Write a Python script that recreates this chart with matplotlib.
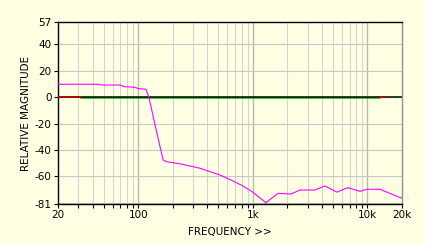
import numpy as np
import matplotlib.pyplot as plt
from matplotlib.ticker import FixedLocator, NullFormatter

plt.rcParams['axes.unicode_minus'] = False

# magenta response curve
freq = [20, 45, 48, 71, 75, 94, 100, 117, 124, 143, 165, 175, 232, 346, 517, 671, 820,
        1000, 1300, 1660, 2150, 2580, 3480, 4260, 5410, 6750, 8590, 10000, 12800, 20000]
mag = [9.8, 9.8, 9.2, 9.2, 8.0, 7.5, 6.5, 6.0, 0.0, -24.0, -47.6, -48.9, -50.5, -53.9,
       -59.0, -63.5, -67.3, -72.0, -80.0, -72.9, -73.4, -70.4, -70.4, -67.3, -72.0,
       -68.6, -71.4, -69.8, -69.8, -76.7]

# flat reference traces
flat_f = [20, 20000]
flat_v = [0, 0]
green_f = [31.7, 12800]
green_v = [-0.8, -0.8]
red_f1 = [20, 31.7]
red_f2 = [12800, 14200]
red_v = [0.2, 0.2]

yticks = [57, 40, 20, 0, -20, -40, -60, -81]
ygrid = [40, 20, 0, -20, -40, -60, -80]
xticks = [20, 100, 1000, 10000, 20000]
xlabels = ['20', '100', '1k', '10k', '20k']

bg = '#ffffe3'

fig = plt.figure(figsize=(4.25, 2.44), dpi=100, facecolor=bg)
ax = fig.add_axes([58 / 425, 1 - 204 / 244, 344 / 425, 182 / 244])
ax.set_facecolor(bg)
ax.set_xscale('log')
ax.set_xlim(20, 20000)
ax.set_ylim(-81, 57)

minor = [m * d for d in (10, 100, 1000) for m in range(2, 10)]
minor = [v for v in minor if 20 < v < 20000 and v not in (100, 1000, 10000)]
for v in minor:
    ax.axvline(v, color='#d4d4d4', lw=0.8, zorder=0)
for v in (100, 1000, 10000):
    ax.axvline(v, color='#b8b8b8', lw=1.0, zorder=0)
for v in ygrid:
    ax.axhline(v, color='#c8c8c8', lw=0.8, zorder=0)

ax.plot(freq, mag, color='#ff00ff', lw=0.8, zorder=3)
ax.plot(green_f, green_v, color='#00c000', lw=1.1, zorder=2)
ax.plot(flat_f, flat_v, color='black', lw=1.1, zorder=2.5)
ax.plot(red_f1, red_v, color='#d00000', lw=1.1, zorder=2.6)
ax.plot(red_f2, red_v, color='#d00000', lw=1.1, zorder=2.6)

ax.xaxis.set_major_locator(FixedLocator(xticks))
ax.set_xticklabels(xlabels)
ax.xaxis.set_minor_locator(FixedLocator(minor))
ax.xaxis.set_minor_formatter(NullFormatter())
ax.set_yticks(yticks)

ax.tick_params(axis='both', which='both', direction='out', length=3, width=0.8,
               color='black', labelsize=7.5, pad=1.5)

for side in ('left', 'top', 'bottom'):
    ax.spines[side].set_color('black')
    ax.spines[side].set_linewidth(1.0)
ax.spines['right'].set_color('#909090')
ax.spines['right'].set_linewidth(1.0)

ax.set_xlabel('FREQUENCY >>', fontsize=7.5, labelpad=5)
ax.set_ylabel('RELATIVE MAGNITUDE', fontsize=7.5, labelpad=3)

fig.savefig('out.png', dpi=100, facecolor=bg)
